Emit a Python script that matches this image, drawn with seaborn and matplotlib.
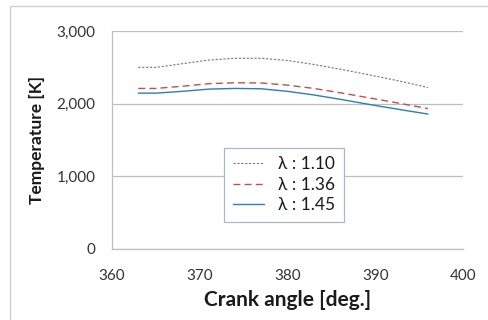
import matplotlib
matplotlib.use("Agg")
import matplotlib.pyplot as plt
import seaborn as sns
import pandas as pd
from matplotlib.patches import Rectangle

angle = [363, 365, 368, 371, 374, 377, 380, 383, 386, 390, 393, 396]
t_110 = [2500, 2500, 2550, 2600, 2625, 2625, 2595, 2540, 2475, 2380, 2305, 2222]
t_136 = [2210, 2210, 2240, 2275, 2288, 2285, 2255, 2210, 2150, 2065, 2000, 1932]
t_145 = [2145, 2145, 2170, 2200, 2210, 2205, 2170, 2120, 2060, 1975, 1915, 1857]
labels = ["λ : 1.10", "λ : 1.36", "λ : 1.45"]
xticks = [360, 370, 380, 390, 400]
yticks = [0, 1000, 2000, 3000]

sns.set_theme(style="white")
plt.rcParams['font.family'] = ['Lato', 'DejaVu Sans']

fig = plt.figure(figsize=(4.88, 3.2), dpi=100)
ax = fig.add_axes([0.2295, 0.222, 0.7195, 0.681])

series = [t_110, t_136, t_145]
colors = ["#7D6BA8", "#C0504D", "#2E7DB5"]
styles = [(0, (2, 1.5)), (0, (5, 3)), "-"]
widths = [0.8, 1.0, 1.0]
for vals, lab, c, ls, lw in zip(series, labels, colors, styles, widths):
    df = pd.DataFrame({"angle": angle, "T": vals})
    sns.lineplot(data=df, x="angle", y="T", ax=ax, color=c, linestyle=ls, linewidth=lw, label=lab)

ax.set_xlim(360, 400)
ax.set_ylim(0, 3000)
ax.set_xticks(xticks)
ax.set_yticks(yticks)
ax.set_yticklabels([f"{v:,}" for v in yticks])
ax.yaxis.grid(True, color="#BEBEBE", linewidth=0.9)
ax.xaxis.grid(False)
for s in ["top", "right"]:
    ax.spines[s].set_visible(False)
for s in ["left", "bottom"]:
    ax.spines[s].set_color("#BEBEBE")
    ax.spines[s].set_linewidth(0.9)
ax.tick_params(axis="both", which="both", direction="out", length=4, color="#BEBEBE",
               labelsize=11, labelcolor="#333333")
ax.tick_params(axis="y", pad=8)
ax.tick_params(axis="x", pad=10.5)
ax.set_xlabel("Crank angle [deg.]", fontsize=15, fontweight="bold", color="#1a1a1a", labelpad=5)
ax.set_ylabel("Temperature [K]", fontsize=12.5, fontweight="bold", color="#1a1a1a", labelpad=8)

leg = ax.legend(loc="center", bbox_to_anchor=(0.49, 0.295), fontsize=12.5, frameon=True,
                fancybox=False, edgecolor="#A8B8CC", handlelength=1.8, handletextpad=0.8,
                borderpad=0.5, labelspacing=0.25, framealpha=1)
leg.get_frame().set_linewidth(0.9)
for t in leg.get_texts():
    t.set_color("#1a1a1a")

fig.patches.append(Rectangle((10 / 488, -0.1), 1.2, 1 - 6 / 320 + 0.1, transform=fig.transFigure,
                             fill=False, edgecolor="#D0D0D0", linewidth=1.0))

fig.savefig("out.png", dpi=100)
